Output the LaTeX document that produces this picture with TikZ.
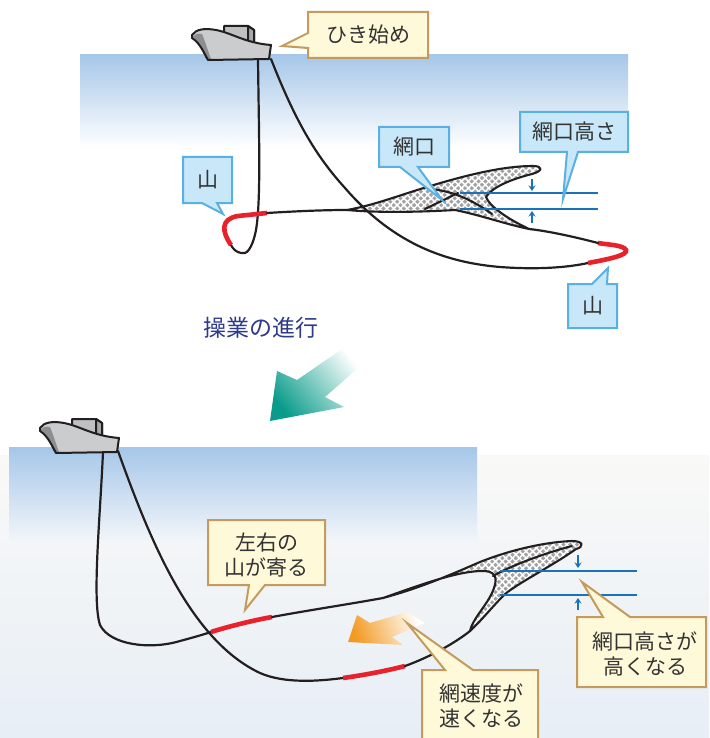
\documentclass[tikz,border=0pt]{standalone}
\usepackage{fontspec}
\newfontfamily\jpfont{Noto Sans CJK JP}
\usetikzlibrary{patterns.meta,arrows.meta}

\definecolor{seaTop}{HTML}{A6C7E8}
\definecolor{seaMid}{HTML}{D2E3F3}
\definecolor{paleA}{HTML}{F9F9F7}
\definecolor{paleB}{HTML}{EFF4FA}
\definecolor{paleC}{HTML}{E7EEF6}
\definecolor{creamFill}{HTML}{FEF9D8}
\definecolor{tanLine}{HTML}{C49A5E}
\definecolor{skyFill}{HTML}{C8E8F9}
\definecolor{skyLine}{HTML}{5AAFE3}
\definecolor{labelText}{HTML}{333333}
\definecolor{ropeBlack}{HTML}{231F20}
\definecolor{ropeRed}{HTML}{E8212B}
\definecolor{meshGray}{HTML}{A2A2A2}
\definecolor{gaugeBlue}{HTML}{1A72BA}
\definecolor{hullGray}{HTML}{CBCCCE}
\definecolor{hullDark}{HTML}{8D8E90}
\definecolor{cabinGray}{HTML}{BFC0C2}
\definecolor{navyText}{HTML}{2E3A8C}
\definecolor{tealArrow}{HTML}{0A9C8B}
\definecolor{orangeArrow}{HTML}{F39A22}

\tikzset{
  creambox/.style={fill=creamFill, draw=tanLine, line width=2pt, line join=miter},
  bluebox/.style={fill=skyFill, draw=skyLine, line width=2pt, line join=miter},
  lbl/.style={text=labelText, font={\jpfont\fontsize{21}{25}\selectfont}, align=center, inner sep=0pt},
  progress/.style={text=navyText, font={\jpfont\fontsize{23}{27}\selectfont}, inner sep=0pt},
  rope/.style={draw=ropeBlack, line width=2.2pt, line cap=round, line join=round},
  yama/.style={draw=ropeRed, line width=4.6pt, line cap=butt},
  netedge/.style={draw=ropeBlack, line width=2.1pt, line join=round, line cap=round},
  mesh/.style={
    preaction={fill=meshGray},
    preaction={pattern={Lines[angle=45,distance=4.8pt,line width=1.5pt]}, pattern color=white},
    preaction={pattern={Lines[angle=-45,distance=4.8pt,line width=1.5pt]}, pattern color=white}},
  mouthline/.style={draw=gaugeBlue, line width=2.2pt},
  gauge/.style={draw=gaugeBlue, line width=1.6pt, -{Stealth[length=5.5pt,width=7pt]}},
  shipedge/.style={draw=ropeBlack, line width=2pt, line join=round},
  ship/.pic={
    % wheelhouse
    \draw[shipedge, fill=cabinGray] (72,438) -- (72,419) -- (96,419) -- (102,423) -- (102,438);
    \draw[shipedge, fill=hullDark!45!cabinGray] (96,419) -- (102,423) -- (102,438) -- (96,438) -- cycle;
    % hull
    \fill[hullGray] (40,428) .. controls (44,422) and (53,421) .. (64,423)
      .. controls (80,426) and (93,436) .. (119,438) -- (117,452) -- (56,453)
      .. controls (52,446) and (48,436) .. (40,431) -- cycle;
    \fill[hullDark] (41,430) .. controls (46,434) and (50,443) .. (54,452) -- (59,452)
      .. controls (56,444) and (53,434) .. (50,427) .. controls (46,426) and (43,427) .. (41,430) -- cycle;
    \draw[shipedge] (40,428) .. controls (44,422) and (53,421) .. (64,423)
      .. controls (80,426) and (93,436) .. (119,438) -- (117,452) -- (56,453)
      .. controls (52,446) and (48,436) .. (40,431) -- cycle;
  }
}

\begin{document}
\begin{tikzpicture}[x=1pt,y=-1pt]
\useasboundingbox (0,0) rectangle (709,738);

% ---------- upper scene: start of towing ----------
\shade[top color=seaTop, middle color=seaMid, bottom color=white] (80,55) rectangle (628,148);

% trawl net (upper)
\draw[netedge, mesh] (347,210) .. controls (375,205) and (400,195) .. (427,187)
  .. controls (460,177) and (500,166) .. (533,166) .. controls (543,166) and (543,171) .. (532,174)
  .. controls (512,179) and (492,187) .. (486,197) .. controls (490,207) and (508,219) .. (529,229)
  .. controls (505,224) and (480,215) .. (455,210) .. controls (420,212) and (380,213) .. (347,210) -- cycle;
\draw[netedge] (425,209) -- (458,193);
\draw[netedge] (430,189) .. controls (455,191) and (475,202) .. (492,214);

% warps and ground ropes (upper)
\coordinate (shipTopL) at (258,60);
\coordinate (shipTopR) at (271,59);
\coordinate (yamaL1) at (231,245);
\coordinate (yamaL2) at (267,213);
\coordinate (netTopTip) at (347,210);
\coordinate (yamaR1) at (588,263);
\coordinate (yamaR2) at (598,243);
\coordinate (netTopWing) at (529,229);

\draw[rope] (shipTopL) .. controls (259,140) and (261,200) .. (256,230)
  .. controls (252,250) and (246,255) .. (241,253) .. controls (236,252) and (233,249) .. (yamaL1);
\draw[yama] (yamaL1) .. controls (222,232) and (220,219) .. (238,216) -- (yamaL2);
\draw[rope] (yamaL2) .. controls (300,211) and (325,210) .. (netTopTip);

\draw[rope] (shipTopR) .. controls (295,120) and (315,155) .. (345,188)
  .. controls (390,240) and (440,262) .. (500,267) .. controls (540,270) and (570,267) .. (yamaR1);
\draw[yama] (yamaR1) .. controls (610,259) and (628,255) .. (626,250)
  .. controls (623,245) and (610,245) .. (yamaR2);
\draw[rope] (yamaR2) .. controls (575,237) and (548,231) .. (netTopWing);

% net mouth height gauge (upper)
\draw[mouthline] (460,193) -- (598,193);
\draw[mouthline] (460,209) -- (598,209);
\draw[gauge] (532,179) -- (532,191);
\draw[gauge] (532,223) -- (532,211);

% vessel (upper)
\pic at (152,-393) {ship};

% callouts (upper)
\draw[creambox] (308,12) -- (428,12) -- (428,58) -- (308,58) -- (308,48) -- (282,46) -- (308,33) -- cycle;
\node[lbl] (lblStart) at (368,35) {ひき始め};

\draw[bluebox] (379,127) -- (449,127) -- (449,167) -- (418,167) -- (442,200) -- (400,167) -- (379,167) -- cycle;
\node[lbl] (lblMouth) at (414,147) {網口};

\draw[bluebox] (520,112) -- (628,112) -- (628,152) -- (578,152) -- (563,199) -- (567,152) -- (520,152) -- cycle;
\node[lbl] (lblHeight) at (574,132) {網口高さ};

\draw[bluebox] (183,157) -- (232,157) -- (232,203) -- (217,203) -- (223,214) -- (202,203) -- (183,203) -- cycle;
\node[lbl] (lblYamaL) at (207.5,180) {山};

\draw[bluebox] (568,284) -- (592,284) -- (608,268) -- (607,284) -- (617,284) -- (617,328) -- (568,328) -- cycle;
\node[lbl] (lblYamaR) at (592.5,306) {山};

% ---------- progress arrow ----------
\node[progress] (lblProgress) at (261,328) {操業の進行};
\shade[top color=white, bottom color=tealArrow, shading angle=-51]
  (270,421) -- (277,371) -- (297,380) -- (345,347) -- (365,362) -- (325,397) -- (344,407) -- cycle;

% ---------- lower scene: later in the tow ----------
\shade[top color=paleA, middle color=paleB, bottom color=paleC] (0,455) rectangle (709,738);
\shade[top color=seaTop, bottom color=paleB!80!paleA] (9,447) rectangle (477,540);

% trawl net (lower)
\draw[netedge, mesh] (383,598) .. controls (420,588) and (450,575) .. (480,562)
  .. controls (510,550) and (545,542) .. (572,541) .. controls (584,541) and (584,547) .. (576,549)
  .. controls (552,566) and (520,582) .. (505,594) .. controls (492,607) and (481,621) .. (470,631)
  .. controls (472,620) and (486,606) .. (492,593) .. controls (498,580) and (497,572) .. (485,571)
  .. controls (460,570) and (420,585) .. (383,598) -- cycle;
\draw[netedge] (572,546) .. controls (545,553) and (510,566) .. (493,576);

% warps and ground ropes (lower)
\coordinate (shipBotL) at (103,452);
\coordinate (shipBotR) at (118,451);
\coordinate (yamaL3) at (211,632);
\coordinate (yamaL4) at (272,617);
\coordinate (netBotTip) at (383,598);
\coordinate (yamaR3) at (343,678);
\coordinate (yamaR4) at (405,666);
\coordinate (netBotWing) at (470,631);

\draw[rope] (shipBotL) .. controls (100,520) and (92,600) .. (100,625)
  .. controls (110,645) and (150,650) .. (180,641) .. controls (195,637) and (205,634) .. (yamaL3);
\draw[yama] (yamaL3) .. controls (230,626) and (255,620) .. (yamaL4);
\draw[rope] (yamaL4) .. controls (310,610) and (350,604) .. (netBotTip);

\draw[rope] (shipBotR) .. controls (150,540) and (190,640) .. (260,673)
  .. controls (285,684) and (320,681) .. (yamaR3);
\draw[yama] (yamaR3) .. controls (365,675) and (390,670) .. (yamaR4);
\draw[rope] (yamaR4) .. controls (430,657) and (455,643) .. (netBotWing);

% net mouth height gauge (lower)
\draw[mouthline] (500,571) -- (637,571);
\draw[mouthline] (500,595) -- (637,595);
\draw[gauge] (578,555) -- (578,568);
\draw[gauge] (578,610) -- (578,598);

% towing direction of the net
\shade[top color=white, bottom color=orangeArrow, shading angle=-70]
  (348,642) -- (357,615) -- (370,623) -- (407,612) -- (425,623) -- (392,637) -- (403,645) -- cycle;

% vessel (lower)
\pic at (0,0) {ship};

% callouts (lower)
\draw[creambox] (208,520) -- (325,520) -- (325,585) -- (265,585) -- (245,610) -- (249,585) -- (208,585) -- cycle;
\node[lbl] (lblNear) at (266.5,555) {左右の\\山が寄る};

\draw[creambox] (422,745) -- (422,670) -- (445,670) -- (407,623) -- (473,670) -- (538,670) -- (538,745) -- cycle;
\node[lbl] (lblSpeed) at (481,706) {網速度が\\速くなる};

\draw[creambox] (577,617) -- (603,617) -- (582,582) -- (630,617) -- (706,617) -- (706,687) -- (577,687) -- cycle;
\node[lbl] (lblHigher) at (645,654) {網口高さが\\高くなる};

\end{tikzpicture}
\end{document}
